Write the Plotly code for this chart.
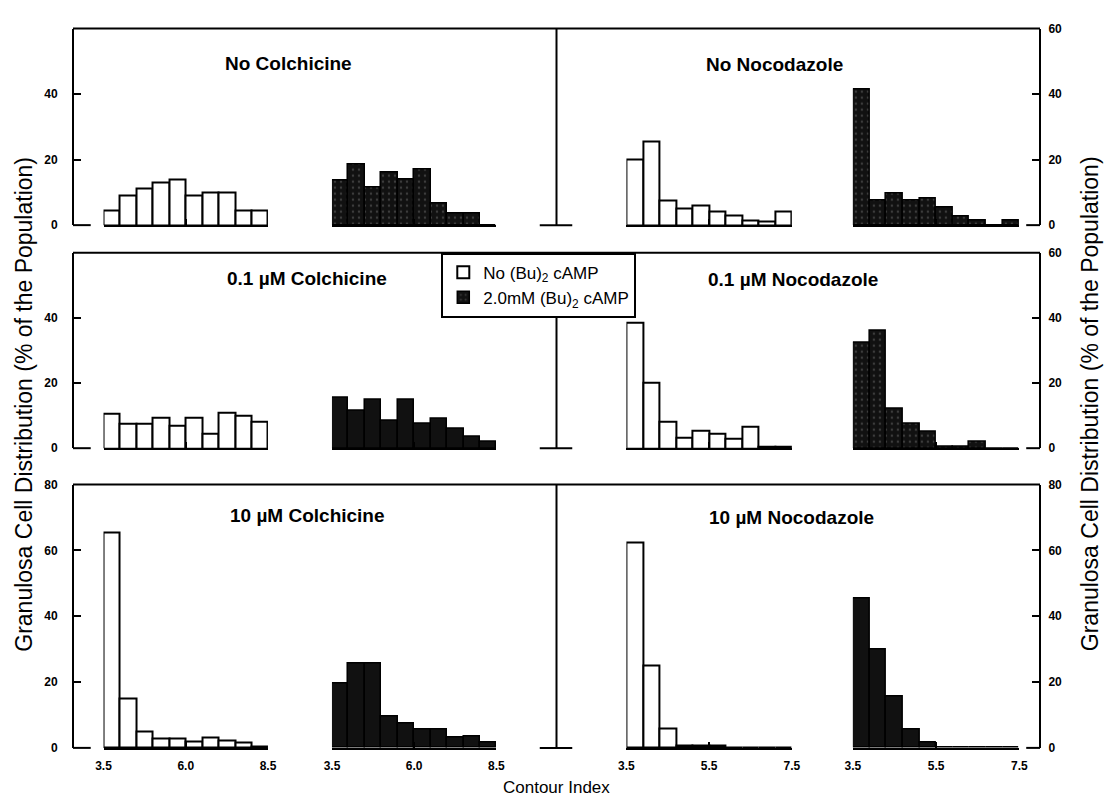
import plotly.graph_objects as go

W, H = 1114, 805
FONT = "Liberation Sans, Arial, Helvetica, sans-serif"

# ---------------- data ----------------
panel_titles = ["No Colchicine", "No Nocodazole",
                "0.1 µM Colchicine", "0.1 µM Nocodazole",
                "10 µM Colchicine", "10 µM Nocodazole"]

# bin centres (Contour Index)
colch_bins = [3.75, 4.25, 4.75, 5.25, 5.75, 6.25, 6.75, 7.25, 7.75, 8.25]   # width 0.5
nocod_bins = [3.7, 4.1, 4.5, 4.9, 5.3, 5.7, 6.1, 6.5, 6.9, 7.3]             # width 0.4

# % of population, No (Bu)2 cAMP (white) / 2.0 mM (Bu)2 cAMP (dark)
no_colch_white = [4.5, 9, 11, 13, 14, 9, 10, 10, 4.5, 4.5]
no_colch_dark = [13.5, 18.5, 11.5, 16, 14, 17, 6.5, 3.5, 3.5, 0]
no_nocod_white = [20, 25.5, 7.5, 5, 6, 4, 3, 1.5, 1, 4]
no_nocod_dark = [41.5, 7.5, 9.5, 7.5, 8, 5.5, 2.5, 1.5, 0, 1.5]
c01_colch_white = [10.5, 7.5, 7.5, 9.5, 7, 9.5, 4.5, 11, 10, 8]
c01_colch_dark = [15.5, 11.5, 15, 8.5, 15, 7.5, 9, 6, 3.5, 2]
c01_nocod_white = [38.5, 20, 8, 3.3, 5.5, 4.5, 3, 6.5, 0.5, 0.5]
c01_nocod_dark = [32.5, 36, 12, 7.5, 5, 0.5, 0.5, 2, 0, 0]
c10_colch_white = [65.5, 15, 5, 2.8, 2.8, 2, 3, 2.3, 1.5, 0.5]
c10_colch_dark = [19.5, 25.5, 25.5, 9.5, 7.5, 5.5, 5.5, 3, 3.5, 1.5]
c10_nocod_white = [62.5, 25, 6, 0.8, 0.8, 0.8, 0, 0, 0, 0]
c10_nocod_dark = [45.5, 30, 15.5, 5.5, 1.5, 0, 0, 0, 0, 0]

colch_ticks = [3.5, 6.0, 8.5]
colch_ticktext = ["3.5", "6.0", "8.5"]
nocod_ticks = [3.5, 5.5, 7.5]
nocod_ticktext = ["3.5", "5.5", "7.5"]

row_ymax = [60, 60, 80]
left_yticks = [[0, 20, 40], [0, 20, 40], [0, 20, 40, 60, 80]]
right_yticks = [[0, 20, 40, 60], [0, 20, 40, 60], [0, 20, 40, 60, 80]]

legend_names = ["No (Bu)<sub>2</sub> cAMP", "2.0mM (Bu)<sub>2</sub> cAMP"]
ytitle = "Granulosa Cell Distribution (% of the Population)"
xtitle = "Contour Index"

# ---------------- layout geometry (pixels) ----------------
rows_px = [(22, 222), (250, 449), (486, 754)]          # top, baseline
x_left_axis, x_mid, x_right_axis = 66, 557, 1048
sub_dom_px = [(97, 264), (329, 496), (628, 796), (858, 1027)]
title_px = [(285, 58), (778, 59), (304, 276), (797, 277), (304, 517), (796, 520)]

data_rows = [
    (no_colch_white, no_colch_dark, no_nocod_white, no_nocod_dark),
    (c01_colch_white, c01_colch_dark, c01_nocod_white, c01_nocod_dark),
    (c10_colch_white, c10_colch_dark, c10_nocod_white, c10_nocod_dark),
]


def px(xp):
    return xp / W


def py(yp):
    return 1 - yp / H


fig = go.Figure()
layout = dict(width=W, height=H, margin=dict(l=0, r=0, t=0, b=0),
              paper_bgcolor="white", plot_bgcolor="rgba(0,0,0,0)",
              showlegend=True, bargap=0,
              font=dict(family=FONT, color="black"))
shapes = []
annotations = []

ax_i = 0
for r in range(3):
    top, base = rows_px[r]
    ydom = [py(base), py(top)]
    yl = 2 * r + 1
    yr = 2 * r + 2
    ymax = row_ymax[r]
    common_y = dict(domain=ydom, range=[0, ymax], showgrid=False, zeroline=False,
                    showline=True, linewidth=2, linecolor="black",
                    ticks="inside", ticklen=7, tickwidth=2, tickcolor="black",
                    tickfont=dict(family=FONT, size=12, weight="bold"),
                    anchor="free", fixedrange=True)
    layout[f"yaxis{yl}"] = dict(common_y, side="left", position=px(x_left_axis),
                                tickvals=left_yticks[r], ticklabelstandoff=12)
    layout[f"yaxis{yr}"] = dict(common_y, side="right", position=px(x_right_axis),
                                tickvals=right_yticks[r], ticklabelstandoff=5)

    for s in range(4):
        ax_i += 1
        x0, x1 = sub_dom_px[s]
        is_colch = s < 2
        ticks = colch_ticks if is_colch else nocod_ticks
        ttext = colch_ticktext if is_colch else nocod_ticktext
        layout[f"xaxis{ax_i}"] = dict(
            domain=[px(x0), px(x1)], range=[ticks[0], ticks[-1]],
            anchor=f"y{yl if is_colch else yr}", showgrid=False, zeroline=False,
            showline=True, linewidth=2, linecolor="black",
            ticks="inside", ticklen=6, tickwidth=2, tickcolor="black",
            tickvals=ticks, ticktext=ttext, showticklabels=(r == 2),
            ticklabelstandoff=6,
            tickfont=dict(family=FONT, size=12, weight="bold"), fixedrange=True)

        bins = colch_bins if is_colch else nocod_bins
        bw = 0.5 if is_colch else 0.4
        vals = data_rows[r][s]
        dark = (s % 2 == 1)
        if dark:
            marker = dict(color="#111111", line=dict(color="black", width=1.5))
            if r == 0 or (r == 1 and s == 3):
                marker["pattern"] = dict(shape=".", fgcolor="#6a6a6a", bgcolor="#111111",
                                         size=6, solidity=0.12)
        else:
            marker = dict(color="white", line=dict(color="black", width=2))
        fig.add_trace(go.Bar(
            x=bins, y=vals, width=bw, marker=marker,
            name=legend_names[1 if dark else 0],
            showlegend=(r == 0 and s in (0, 1)),
            xaxis=f"x{ax_i}", yaxis=f"y{yl if is_colch else yr}",
            hoverinfo="x+y"))

    # frame decoration: top line, middle divider, baseline stubs
    shapes.append(dict(type="line", xref="paper", yref="paper",
                       x0=px(x_left_axis), x1=px(x_right_axis), y0=py(top), y1=py(top),
                       line=dict(color="black", width=2)))
    shapes.append(dict(type="line", xref="paper", yref="paper",
                       x0=px(x_mid), x1=px(x_mid), y0=py(base), y1=py(top),
                       line=dict(color="black", width=2)))
    for a, b in [(x_left_axis, 84), (x_mid - 17, x_mid + 16), (x_right_axis - 14, x_right_axis)]:
        shapes.append(dict(type="line", xref="paper", yref="paper",
                           x0=px(a), x1=px(b), y0=py(base), y1=py(base),
                           line=dict(color="black", width=2)))

for t, (cx, cy) in zip(panel_titles, title_px):
    annotations.append(dict(text=t, x=px(cx), y=py(cy), xref="paper", yref="paper",
                            showarrow=False, xanchor="center", yanchor="middle",
                            font=dict(family=FONT, size=19, weight="bold")))

annotations.append(dict(text=ytitle, x=px(16), y=py(404), xref="paper", yref="paper",
                        showarrow=False, textangle=-90, xanchor="center", yanchor="middle",
                        font=dict(family=FONT, size=23)))
annotations.append(dict(text=ytitle, x=px(1099), y=py(404), xref="paper", yref="paper",
                        showarrow=False, textangle=-90, xanchor="center", yanchor="middle",
                        font=dict(family=FONT, size=23)))
annotations.append(dict(text=xtitle, x=px(557), y=py(794), xref="paper", yref="paper",
                        showarrow=False, xanchor="center", yanchor="middle",
                        font=dict(family=FONT, size=17)))

layout["shapes"] = shapes
layout["annotations"] = annotations
layout["legend"] = dict(x=px(440), y=py(250), xanchor="left", yanchor="top",
                        bgcolor="white", bordercolor="black", borderwidth=2,
                        font=dict(family=FONT, size=17), tracegroupgap=0,
                        itemclick=False, itemdoubleclick=False)
fig.update_layout(**layout)
fig.write_html("out.html", config={"displayModeBar": False},
               post_script="document.body.style.margin='0px';document.body.style.overflow='hidden';")
